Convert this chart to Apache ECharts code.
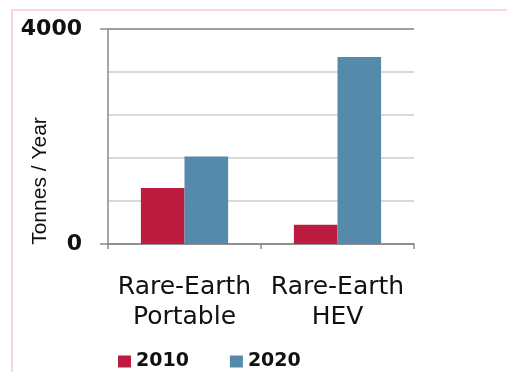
<!DOCTYPE html>
<html>
<head>
<meta charset="utf-8">
<script src="https://cdn.jsdelivr.net/npm/echarts@6/dist/echarts.min.js"></script>
<style>
  html, body { margin: 0; padding: 0; background: #fff; }
  #chart { width: 507px; height: 372px; }
</style>
</head>
<body>
<div id="chart"></div>
<script>
// Battery rare-earth demand by application, tonnes per year
const categories = ['Rare-Earth\nPortable', 'Rare-Earth\nHEV'];
const seriesNames = ['2010', '2020'];
const values2010 = [1040, 360];
const values2020 = [1630, 3480];
const yTickValues = [0, 4000];
const yAxisTitle = 'Tonnes / Year';

const chart = echarts.init(document.getElementById('chart'), null, { renderer: 'canvas' });

chart.setOption({
  animation: false,
  backgroundColor: '#ffffff',
  graphic: [
    {
      type: 'polyline',
      shape: { points: [[12, 400], [12, 10], [560, 10]] },
      style: { fill: null, stroke: '#f8d6de', lineWidth: 2 },
      silent: true
    },
    {
      type: 'text',
      x: 40,
      y: 181,
      rotation: Math.PI / 2,
      style: {
        text: yAxisTitle,
        fill: '#111',
        font: '21px "Liberation Sans", Arial, sans-serif',
        textAlign: 'center',
        textVerticalAlign: 'middle'
      }
    }
  ],
  grid: { left: 108, right: 93, top: 29, bottom: 128, containLabel: false },
  legend: {
    data: seriesNames,
    left: 113,
    top: 347,
    icon: 'rect',
    itemWidth: 13,
    itemHeight: 12,
    itemGap: 41,
    textStyle: {
      fontFamily: 'DejaVu Sans',
      fontSize: 19,
      fontWeight: 'bold',
      color: '#111',
      padding: [0, 0, 0, 0]
    }
  },
  xAxis: {
    type: 'category',
    data: categories,
    axisLine: { show: true, lineStyle: { color: '#8a8a8a', width: 1.5 } },
    axisTick: { show: true, length: 5, lineStyle: { color: '#8a8a8a', width: 1.5 } },
    axisLabel: {
      fontFamily: 'DejaVu Sans',
      fontSize: 25,
      lineHeight: 30,
      color: '#111',
      margin: 28,
      interval: 0
    },
    splitLine: { show: false }
  },
  yAxis: [
    {
      type: 'value',
      min: 0,
      max: 4000,
      interval: 800,
      axisLine: { show: true, lineStyle: { color: '#8a8a8a', width: 1.5 } },
      axisTick: { show: false },
      axisLabel: { show: false },
      splitLine: { show: true, lineStyle: { color: '#d9d9d9', width: 2 } }
    },
    {
      type: 'value',
      min: yTickValues[0],
      max: yTickValues[1],
      interval: yTickValues[1] - yTickValues[0],
      position: 'left',
      axisLine: { show: false },
      axisTick: { show: true, length: 8, lineStyle: { color: '#8a8a8a', width: 1.5 } },
      axisLabel: {
        fontFamily: 'DejaVu Sans',
        fontSize: 22,
        fontWeight: 'bold',
        color: '#111',
        margin: 26,
        formatter: (v) => String(v)
      },
      splitLine: { show: true, lineStyle: { color: '#8a8a8a', width: 1.5 } }
    }
  ],
  series: [
    {
      name: seriesNames[0],
      type: 'bar',
      data: values2010,
      barGap: '0%',
      barCategoryGap: '43%',
      itemStyle: { color: '#be1b41' }
    },
    {
      name: seriesNames[1],
      type: 'bar',
      data: values2020,
      barGap: '0%',
      barCategoryGap: '43%',
      itemStyle: { color: '#568aab' }
    }
  ]
});
</script>
</body>
</html>
